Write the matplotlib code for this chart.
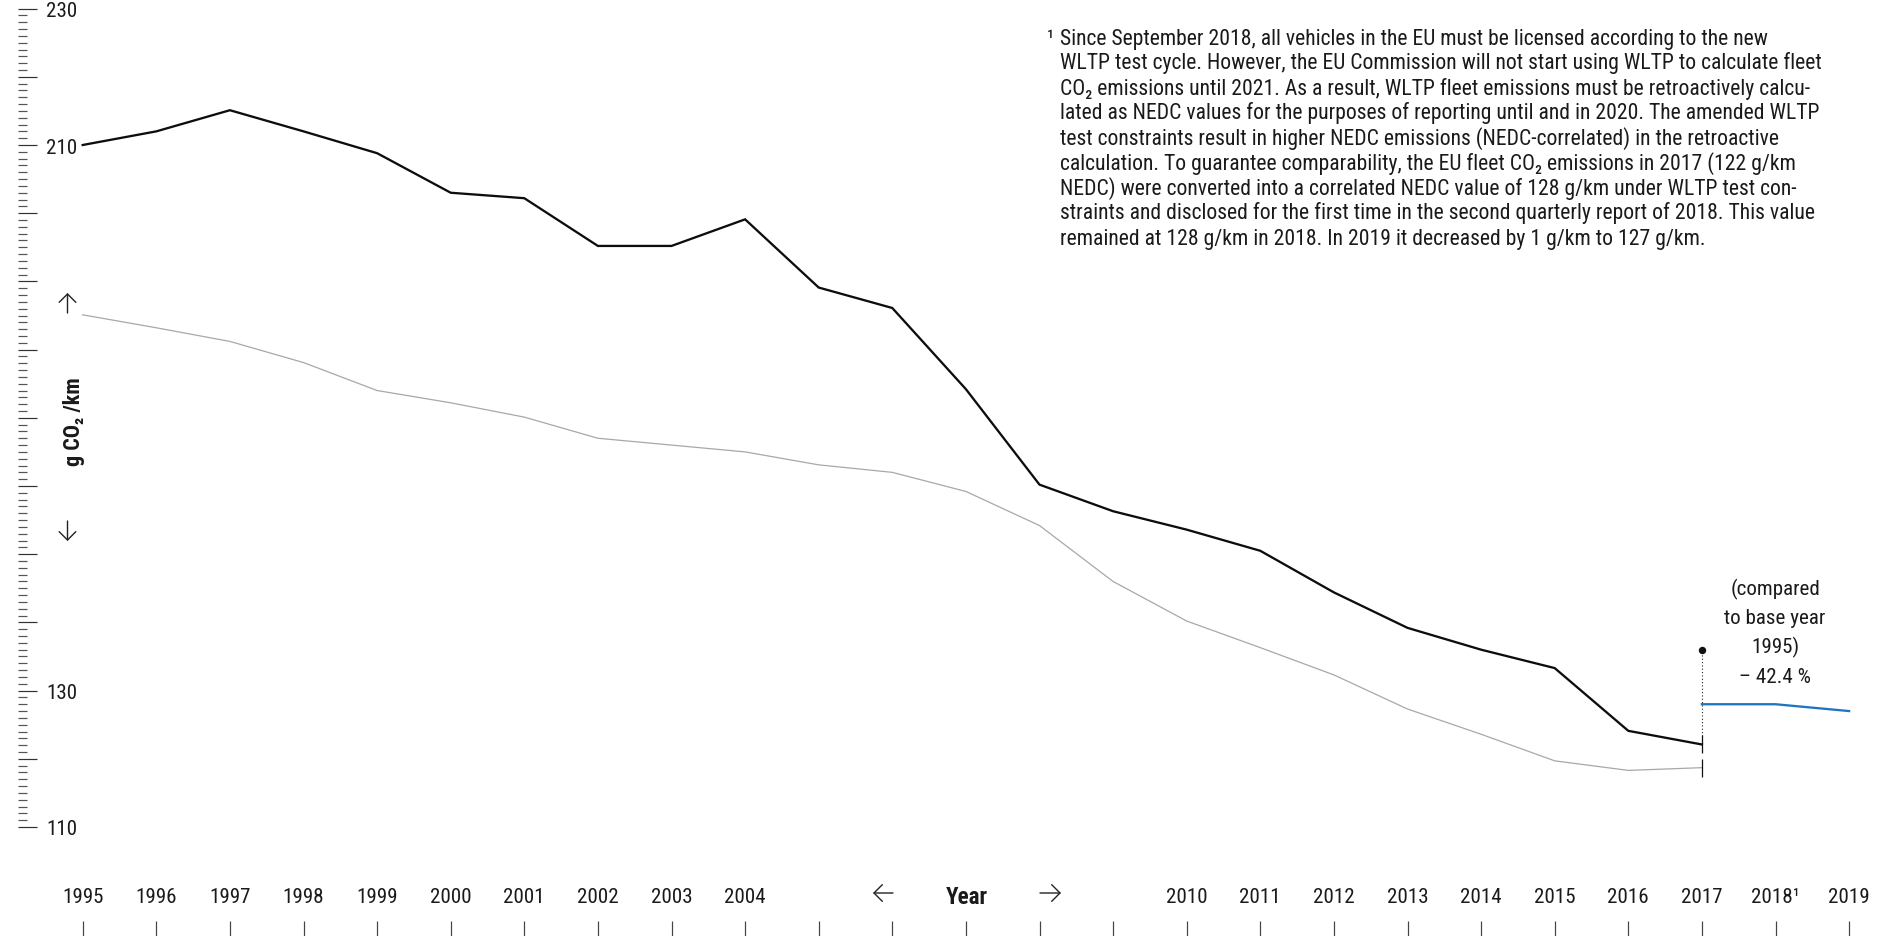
import matplotlib
matplotlib.use("Agg")
import matplotlib.pyplot as plt
from matplotlib.ticker import FixedLocator

# ---------------- data ----------------
years = list(range(1995, 2018))
fleet_co2 = [210.0, 212.0, 215.1, 212.0, 208.8, 203.0, 202.2, 195.2, 195.2, 199.1,
             189.1, 186.1, 174.2, 160.2, 156.3, 153.6, 150.5, 144.4, 139.2, 136.0,
             133.3, 124.1, 122.1]
comparison_co2 = [185.1, 183.2, 181.2, 178.1, 174.0, 172.2, 170.1, 167.0, 166.0, 165.0,
                  163.1, 162.0, 159.2, 154.2, 146.0, 140.2, 136.3, 132.3, 127.3, 123.6,
                  119.7, 118.3, 118.7]
wltp_years = [2017, 2018, 2019]
wltp_co2 = [128, 128, 127]

tick_years = list(range(1995, 2020))
tick_labels = ["1995", "1996", "1997", "1998", "1999", "2000", "2001", "2002", "2003", "2004",
               "", "", "", "", "",
               "2010", "2011", "2012", "2013", "2014", "2015", "2016", "2017", "2018¹", "2019"]
ytick_values = list(range(110, 231, 10))
ytick_labels = ["110", "", "130", "", "", "", "", "", "", "", "210", "", "230"]
yminor_values = [v for v in range(110, 231) if v % 10 != 0]

reduction_lines = ["(compared", "to base year", "1995)", "– 42.4 %"]
footnote_mark = "¹"
footnote_lines = [
    "Since September 2018, all vehicles in the EU must be licensed according to the new",
    "WLTP test cycle. However, the EU Commission will not start using WLTP to calculate fleet",
    "CO₂ emissions until 2021. As a result, WLTP fleet emissions must be retroactively calcu-",
    "lated as NEDC values for the purposes of reporting until and in 2020. The amended WLTP",
    "test constraints result in higher NEDC emissions (NEDC-correlated) in the retroactive",
    "calculation. To guarantee comparability, the EU fleet CO₂ emissions in 2017 (122 g/km",
    "NEDC) were converted into a correlated NEDC value of 128 g/km under WLTP test con-",
    "straints and disclosed for the first time in the second quarterly report of 2018. This value",
    "remained at 128 g/km in 2018. In 2019 it decreased by 1 g/km to 127 g/km.",
]
callout_value = 136.0

# ---------------- style ----------------
FONT = ["Liberation Sans Narrow", "Roboto Condensed", "Roboto", "DejaVu Sans"]
plt.rcParams["font.family"] = FONT
TXT = "#1a1a1a"

W, H, DPI = 1897, 937, 100
fig = plt.figure(figsize=(W / DPI, H / DPI), dpi=DPI)
fig.patch.set_facecolor("white")


def fx(px):
    return px / W


def fy(py):
    return 1 - py / H


def pt(px):
    return px * 72.0 / DPI


ax = fig.add_axes([fx(18), 0, 1 - fx(18), 1])
ax.set_facecolor("none")
for s in ax.spines.values():
    s.set_visible(False)

x0_px, dx_px = 82.7, 73.6
ax.set_xlim(1995 - (x0_px - 18) / dx_px, 1995 + (W - x0_px) / dx_px)
y210_px, py_unit = 146.0, 6.82
ax.set_ylim(210 - (H - y210_px) / py_unit, 210 + y210_px / py_unit)

# lines
ax.plot(years, comparison_co2, color="#a8a8a8", lw=0.9, zorder=2, solid_joinstyle="miter")
ax.plot(years, fleet_co2, color="#0d0d0d", lw=1.65, zorder=3, solid_joinstyle="miter")
ax.plot(wltp_years, wltp_co2, color="#1f74c4", lw=1.65, zorder=3)

# end markers at 2017
ax.plot([years[-1]], [fleet_co2[-1]], marker="|", ms=pt(18), mew=0.9, color="#111", zorder=4)
ax.plot([years[-1]], [comparison_co2[-1]], marker="|", ms=pt(18), mew=0.9, color="#111", zorder=4)
# callout dotted line with dot
ax.plot([years[-1], years[-1]], [fleet_co2[-1] + 1.3, callout_value], color="#222",
        lw=0.8, ls=(0, (1, 2)), zorder=3)
ax.plot([years[-1]], [callout_value], "o", ms=pt(6), color="#111", zorder=4)

# x ticks
ax.xaxis.set_major_locator(FixedLocator(tick_years))
ax.set_xticklabels(tick_labels)
ax.tick_params(axis="x", direction="in", length=pt(15), width=pt(1.2), color="#444",
               pad=-pt(34), labelsize=pt(21), labelcolor=TXT, top=False, bottom=True)
for lbl in ax.get_xticklabels():
    lbl.set_va("baseline")

# y ticks
ax.yaxis.set_major_locator(FixedLocator(ytick_values))
ax.yaxis.set_minor_locator(FixedLocator(yminor_values))
ax.set_yticklabels(ytick_labels)
ax.tick_params(axis="y", which="major", direction="in", length=pt(19), width=pt(1.2),
               color="#333", pad=-pt(59), labelsize=pt(21), labelcolor=TXT)
ax.tick_params(axis="y", which="minor", direction="in", length=pt(9), width=pt(1.2),
               color="#555")

# axis titles
fig.text(fx(74), fy(422), "g CO₂ /km", rotation=90, ha="center", va="center",
         fontsize=pt(22), fontweight="bold", color=TXT)
fig.text(fx(967), fy(904), "Year", ha="center", va="baseline",
         fontsize=pt(23), fontweight="bold", color=TXT)


def arrow(x1, y1, x2, y2):
    ax.annotate("", xy=(x2, H - y2), xytext=(x1, H - y1), xycoords="figure pixels",
                textcoords="figure pixels",
                arrowprops=dict(arrowstyle="->,head_length=0.5,head_width=0.5", lw=1.0,
                                color="#222", shrinkA=0, shrinkB=0, mutation_scale=12))


arrow(67.5, 314, 67.5, 294)
arrow(67.5, 522, 67.5, 542)
arrow(893, 894, 873, 894)
arrow(1040, 894, 1061, 894)

# reduction annotation
for i, line in enumerate(reduction_lines):
    fig.text(fx(1775), fy(595 + 29.3 * i), line, ha="center", va="baseline",
             fontsize=pt(21), color=TXT)

# footnote
fig.text(fx(1047), fy(44.5), footnote_mark, ha="left", va="baseline",
         fontsize=pt(21.6), color=TXT)
for i, line in enumerate(footnote_lines):
    fig.text(fx(1060), fy(44.5 + 25 * i), line, ha="left", va="baseline",
             fontsize=pt(21.6), color=TXT)

fig.savefig("out.png", dpi=DPI, facecolor="white")
